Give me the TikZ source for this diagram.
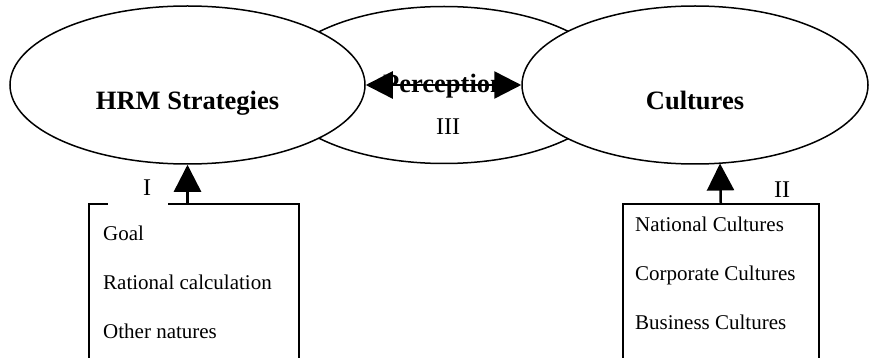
\documentclass[tikz,border=0pt]{standalone}
\usepackage{fontspec}
\setmainfont{Liberation Serif}
\usetikzlibrary{shapes.geometric,arrows.meta}
\begin{document}
\begin{tikzpicture}[x=1pt,y=-1pt,
  oval/.style={ellipse,draw,line width=1.5pt,fill=white,minimum width=350pt,minimum height=158pt,inner sep=0pt},
  bigtxt/.style={font=\fontsize{26.5}{30}\selectfont\bfseries,inner sep=0pt,anchor=base},
  lbl/.style={font=\fontsize{24}{28}\selectfont,inner sep=0pt,anchor=base},
  itm/.style={font=\fontsize{21}{25}\selectfont,inner sep=0pt,anchor=base west},
  listbox/.style={draw,line width=1.5pt,anchor=north west,inner sep=0pt},
  bigarrow/.style={line width=2.5pt,-{Triangle[length=27pt,width=27pt]}},
  dblarrow/.style={line width=2.5pt,{Triangle[length=27pt,width=27pt]}-{Triangle[length=27pt,width=27pt]}}]
\useasboundingbox (0,0) rectangle (869,358);
% ellipses
\node[oval,minimum width=340pt,minimum height=157pt] (per) at (444,85) {};
\node[oval,minimum width=355pt] (hrm) at (187.5,85) {};
\node[oval,minimum width=346pt] (cul) at (695,85) {};
\node[bigtxt] (thrm) at (187.5,110) {HRM Strategies};
\node[bigtxt] (tcul) at (695,110) {Cultures};
\node[bigtxt] (tper) at (444,93) {Perception};
\node[lbl] (l3) at (448,135) {III};
\draw[dblarrow] (hrm.east) -- (cul.west);
% boxes
\node[listbox,minimum width=210pt,minimum height=200pt] (b1) at (88,203) {};
\node[listbox,minimum width=196pt,minimum height=200pt] (b2) at (622,203) {};
\fill[white] (108,178) rectangle (168,205);
\node[lbl] (l1) at (147,195) {I};
\node[lbl] (l2) at (782,197) {II};
\coordinate (a1) at (b1.north -| hrm.south);
\coordinate (a2) at (b2.north);
\coordinate (t2) at (720,163.5);
\draw[bigarrow] (a1) -- (hrm.south);
\draw[bigarrow] (a2) -- (t2);
% items
\node[itm] (g1) at (103,240) {Goal};
\node[itm] (g2) at (103,289) {Rational calculation};
\node[itm] (g3) at (103,338) {Other natures};
\node[itm] (c1) at (635,231) {National Cultures};
\node[itm] (c2) at (635,280) {Corporate Cultures};
\node[itm] (c3) at (635,329) {Business Cultures};
\end{tikzpicture}
\end{document}
